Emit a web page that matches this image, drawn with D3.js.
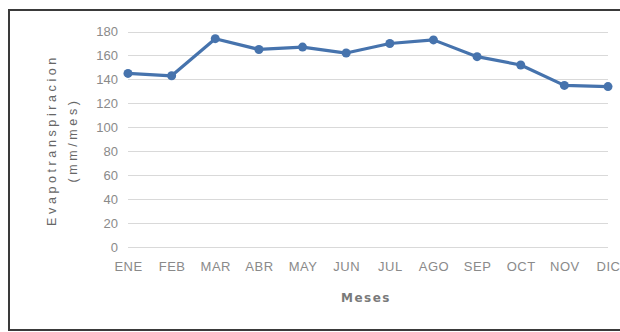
<!DOCTYPE html>
<html><head><meta charset="utf-8">
<script src="https://cdn.jsdelivr.net/npm/d3@7"></script>
<style>
html,body{margin:0;padding:0;background:#fff;}
svg{display:block;}
</style></head>
<body>
<script>
const months = ["ENE","FEB","MAR","ABR","MAY","JUN","JUL","AGO","SEP","OCT","NOV","DIC"];
const evapo = [145,143,174,165,167,162,170,173,159,152,135,134];
const yTicks = [0,20,40,60,80,100,120,140,160,180];

const W = 620, H = 332;
const svg = d3.select("body").append("svg").attr("width", W).attr("height", H);

// outer frame
svg.append("rect").attr("x",9).attr("y",10).attr("width",620).attr("height",320)
  .attr("fill","#fff").attr("stroke","#3a3a3a").attr("stroke-width",2);

const x = d3.scalePoint().domain(months).range([128, 608]);
const y = d3.scaleLinear().domain([0, 180]).range([247, 31.5]);

const font = "'Liberation Sans Narrow','Liberation Sans',Arial,sans-serif";

// gridlines
svg.append("g").selectAll("line").data(yTicks).join("line")
  .attr("x1", 128).attr("x2", 608)
  .attr("y1", d => Math.round(y(d)) + 0.5).attr("y2", d => Math.round(y(d)) + 0.5)
  .attr("stroke", "#d9d9d9").attr("stroke-width", 1);

// y axis labels
const yAxis = d3.axisLeft(y).tickValues(yTicks).tickSize(0).tickPadding(0);
const gy = svg.append("g").attr("transform","translate(118,0)").call(yAxis);
gy.select(".domain").remove();
gy.selectAll("text").attr("font-family", font).attr("font-size", 13).attr("fill", "#8a8a8a");

// x axis labels
const xAxis = d3.axisBottom(x).tickSize(0).tickPadding(0);
const gx = svg.append("g").attr("transform","translate(0,262)").call(xAxis);
gx.select(".domain").remove();
gx.selectAll("text").attr("font-family", font).attr("font-size", 13).attr("fill", "#8a8a8a")
  .attr("letter-spacing", 0.5);

// line
const line = d3.line().x((d,i) => x(months[i])).y(d => y(d));
svg.append("path").datum(evapo).attr("d", line)
  .attr("fill","none").attr("stroke","#4673ad").attr("stroke-width",3.2)
  .attr("stroke-linejoin","round");
svg.append("g").selectAll("circle").data(evapo).join("circle")
  .attr("cx",(d,i)=>x(months[i])).attr("cy",d=>y(d)).attr("r",4.5)
  .attr("fill","#4673ad");

// axis titles
svg.append("text").attr("x", 366).attr("y", 302).attr("text-anchor","middle")
  .attr("font-family","'DejaVu Sans',sans-serif").attr("font-weight","bold")
  .attr("font-size", 12).attr("letter-spacing", 1.5).attr("fill","#7a7a7a").text("Meses");

const yt = svg.append("g").attr("transform","translate(0,140) rotate(-90)");
yt.append("text").attr("x",0).attr("y",56).attr("text-anchor","middle")
  .attr("font-family","'Liberation Sans',Arial,sans-serif")
  .attr("font-size", 12.5).attr("letter-spacing", 3.6).attr("fill","#666").text("Evapotranspiracion");
yt.append("text").attr("x",0).attr("y",77).attr("text-anchor","middle")
  .attr("font-family","'Liberation Sans',Arial,sans-serif")
  .attr("font-size", 12.5).attr("letter-spacing", 3.6).attr("fill","#666").text("(mm/mes)");
</script>
</body></html>
